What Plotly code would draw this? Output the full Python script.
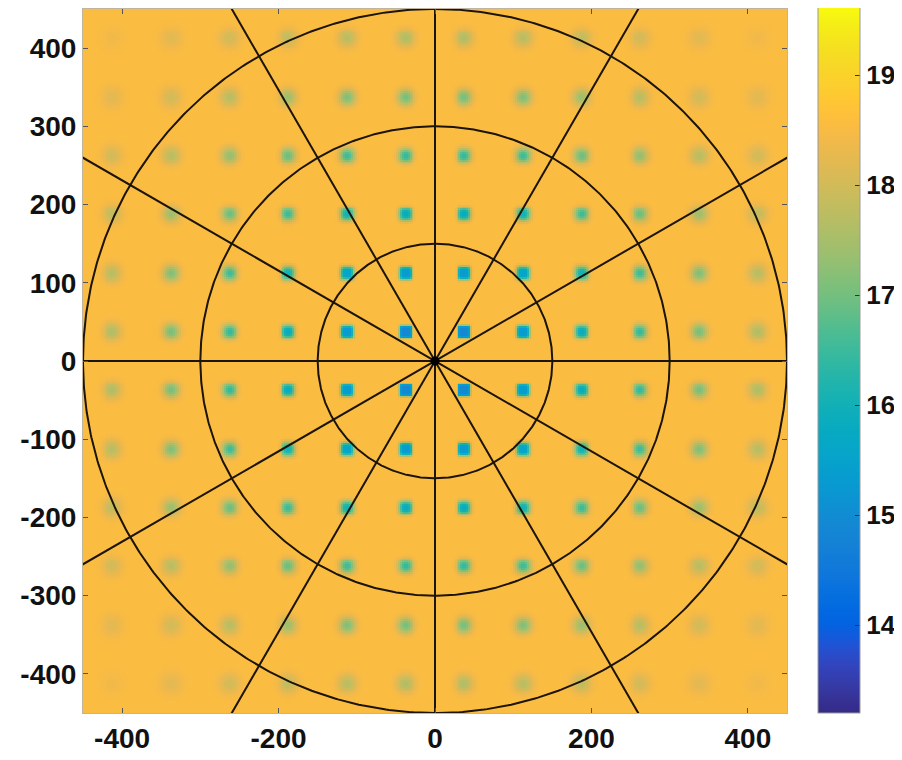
import math
import numpy as np
import plotly.graph_objects as go

# ---- data ----
# square centres along each axis (units)
square_centres = [-412.5, -337.5, -262.5, -187.5, -112.5, -37.5,
                  37.5, 112.5, 187.5, 262.5, 337.5, 412.5]
# peak value of each square in one quadrant: rows = |y| index, cols = |x| index
quadrant_values = [
    [14.9, 15.3, 15.8, 16.4, 17.0, 17.6],
    [15.3, 15.5, 16.0, 16.5, 17.1, 17.7],
    [15.8, 16.0, 16.5, 16.9, 17.4, 17.8],
    [16.4, 16.5, 16.9, 17.3, 17.7, 18.0],
    [17.0, 17.1, 17.4, 17.7, 18.0, 18.2],
    [17.6, 17.7, 17.8, 18.0, 18.2, 18.4],
]
background_value = 18.55
ring_radii = [150, 300, 450]
spoke_angles_deg = [0, 30, 60, 90, 120, 150]
x_ticks = [-400, -200, 0, 200, 400]
x_labels = ["-400", "-200", "0", "200", "400"]
y_ticks = [-400, -300, -200, -100, 0, 100, 200, 300, 400]
y_labels = ["-400", "-300", "-200", "-100", "0", "100", "200", "300", "400"]
cbar_ticks = [14, 15, 16, 17, 18, 19]
cmin, cmax = 13.2, 19.62

parula = [
    (0.2081, 0.1663, 0.5292), (0.2116, 0.1898, 0.5777), (0.2123, 0.2138, 0.6270),
    (0.2081, 0.2386, 0.6771), (0.1959, 0.2645, 0.7279), (0.1707, 0.2919, 0.7792),
    (0.1253, 0.3242, 0.8303), (0.0591, 0.3598, 0.8683), (0.0117, 0.3875, 0.8820),
    (0.0060, 0.4086, 0.8828), (0.0165, 0.4266, 0.8786), (0.0329, 0.4430, 0.8720),
    (0.0498, 0.4586, 0.8641), (0.0629, 0.4737, 0.8554), (0.0723, 0.4887, 0.8467),
    (0.0779, 0.5040, 0.8384), (0.0793, 0.5200, 0.8312), (0.0749, 0.5375, 0.8263),
    (0.0641, 0.5570, 0.8240), (0.0488, 0.5772, 0.8228), (0.0343, 0.5966, 0.8199),
    (0.0265, 0.6137, 0.8135), (0.0239, 0.6287, 0.8038), (0.0231, 0.6418, 0.7913),
    (0.0228, 0.6535, 0.7768), (0.0267, 0.6642, 0.7607), (0.0384, 0.6743, 0.7436),
    (0.0590, 0.6838, 0.7254), (0.0843, 0.6928, 0.7062), (0.1133, 0.7015, 0.6859),
    (0.1453, 0.7098, 0.6646), (0.1801, 0.7177, 0.6424), (0.2178, 0.7250, 0.6193),
    (0.2586, 0.7317, 0.5954), (0.3022, 0.7376, 0.5712), (0.3482, 0.7424, 0.5473),
    (0.3953, 0.7459, 0.5244), (0.4420, 0.7481, 0.5033), (0.4871, 0.7491, 0.4840),
    (0.5300, 0.7491, 0.4661), (0.5709, 0.7485, 0.4494), (0.6099, 0.7473, 0.4337),
    (0.6473, 0.7456, 0.4188), (0.6834, 0.7435, 0.4044), (0.7184, 0.7411, 0.3905),
    (0.7525, 0.7384, 0.3768), (0.7858, 0.7356, 0.3633), (0.8185, 0.7327, 0.3498),
    (0.8507, 0.7299, 0.3360), (0.8824, 0.7274, 0.3217), (0.9139, 0.7258, 0.3063),
    (0.9450, 0.7261, 0.2886), (0.9739, 0.7314, 0.2666), (0.9938, 0.7455, 0.2403),
    (0.9990, 0.7653, 0.2164), (0.9955, 0.7861, 0.1967), (0.9880, 0.8066, 0.1794),
    (0.9789, 0.8271, 0.1633), (0.9697, 0.8481, 0.1475), (0.9626, 0.8705, 0.1309),
    (0.9589, 0.8949, 0.1132), (0.9598, 0.9218, 0.0948), (0.9661, 0.9514, 0.0755),
    (0.9763, 0.9831, 0.0538),
]
colorscale = [[i / (len(parula) - 1),
               "rgb(%d,%d,%d)" % tuple(int(round(c * 255)) for c in rgb)]
              for i, rgb in enumerate(parula)]

# ---- build image ----
step = 2.5
grid = np.arange(-450 + step / 2, 450, step)
z = np.full((grid.size, grid.size), background_value)
half_w = 7.8
erf = np.vectorize(math.erf)


def box_profile(coords, centre, a, s):
    k = s * math.sqrt(2)
    return 0.5 * (erf((coords - centre + a) / k) - erf((coords - centre - a) / k))


for cy in square_centres:
    for cx in square_centres:
        iy = int(abs(cy) // 75)
        ix = int(abs(cx) // 75)
        v = quadrant_values[iy][ix]
        r = math.hypot(cx, cy)
        s = 1.0 + 8.5 * (r / 580.0) ** 1.4
        px = box_profile(grid, cx, half_w, s)
        py = box_profile(grid, cy, half_w, s)
        peak = math.erf(half_w / (s * math.sqrt(2))) ** 2
        z += (v - background_value) * np.outer(py, px) / peak

bold_font = dict(family="Liberation Sans", size=28, color="#111", weight="bold")
cbar_font = dict(family="Liberation Sans", size=26, color="#111", weight="bold")

fig = go.Figure()
fig.add_trace(go.Heatmap(
    x=grid, y=grid, z=z, colorscale=colorscale, zmin=cmin, zmax=cmax,
    showscale=True, hoverinfo="skip",
    colorbar=dict(
        x=1.044, xanchor="left", xpad=0,
        y=0, yanchor="bottom", ypad=0,
        len=1.003, lenmode="fraction", thickness=42,
        outlinewidth=1, outlinecolor="#9a9a9a",
        tickvals=cbar_ticks, ticks="inside", ticklen=5, tickcolor="#333",
        tickfont=cbar_font,
    ),
))

line_col = "#1c1408"
theta = np.linspace(0, 2 * np.pi, 721)
for r in ring_radii:
    fig.add_trace(go.Scatter(x=r * np.cos(theta), y=r * np.sin(theta), mode="lines",
                             line=dict(color=line_col, width=2), hoverinfo="skip",
                             showlegend=False))
for a in spoke_angles_deg:
    t = math.radians(a)
    L = 700
    fig.add_trace(go.Scatter(x=[-L * math.cos(t), L * math.cos(t)],
                             y=[-L * math.sin(t), L * math.sin(t)], mode="lines",
                             line=dict(color=line_col, width=2), hoverinfo="skip",
                             showlegend=False))
fig.add_trace(go.Scatter(x=[0], y=[0], mode="markers",
                         marker=dict(color="black", size=9), hoverinfo="skip",
                         showlegend=False))

# page body has an 8px margin, so the figure is sized and offset accordingly
fig.update_layout(
    width=894, height=752,
    margin=dict(l=75, r=115, t=1, b=47, autoexpand=False),
    paper_bgcolor="white", plot_bgcolor="white",
    showlegend=False,
    font=dict(family="Liberation Sans"),
    xaxis=dict(range=[-450, 450], tickvals=x_ticks, ticktext=x_labels,
               ticks="inside", ticklen=5,
               tickcolor="#555", mirror="ticks", showline=True,
               linecolor="rgba(150,130,90,0.6)",
               linewidth=1, showgrid=False, zeroline=False, tickfont=bold_font),
    yaxis=dict(range=[-450, 450], tickvals=y_ticks, ticktext=y_labels,
               ticks="inside", ticklen=5,
               tickcolor="#555", mirror="ticks", showline=True,
               linecolor="rgba(150,130,90,0.6)",
               linewidth=1, showgrid=False, zeroline=False, tickfont=bold_font),
)
fig.write_html("out.html")
